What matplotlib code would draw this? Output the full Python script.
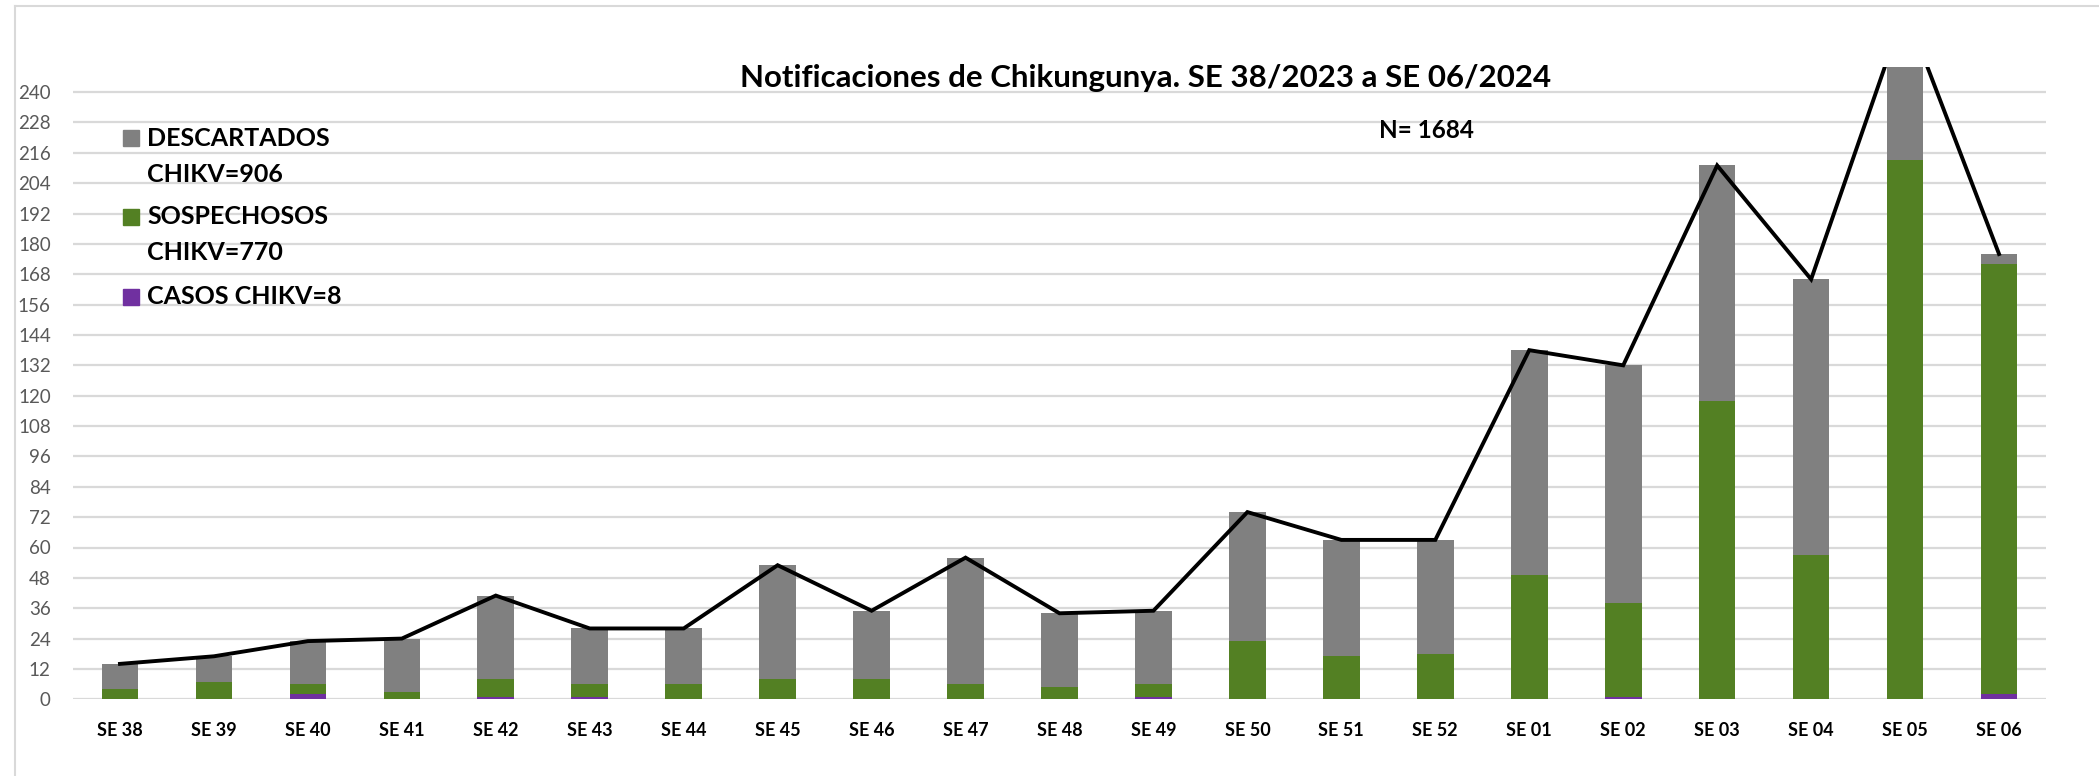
import matplotlib
matplotlib.use("Agg")
import matplotlib.pyplot as plt
from matplotlib.patches import Rectangle
from matplotlib.lines import Line2D
import numpy as np

semanas = ["SE 38", "SE 39", "SE 40", "SE 41", "SE 42", "SE 43", "SE 44", "SE 45",
           "SE 46", "SE 47", "SE 48", "SE 49", "SE 50", "SE 51", "SE 52", "SE 01",
           "SE 02", "SE 03", "SE 04", "SE 05", "SE 06"]
casos = [0, 0, 2, 0, 1, 1, 0, 0, 0, 0, 0, 1, 0, 0, 0, 0, 1, 0, 0, 0, 2]
sospechosos = [4, 7, 4, 3, 7, 5, 6, 8, 8, 6, 5, 5, 23, 17, 18, 49, 37, 118, 57, 213, 170]
descartados = [10, 10, 17, 21, 33, 22, 22, 45, 27, 50, 29, 29, 51, 46, 45, 89, 94, 93, 109, 60, 4]
yticks = list(range(0, 241, 12))

FONT = ["Lato", "DejaVu Sans"]
plt.rcParams["font.family"] = FONT

c_desc = "#808080"
c_sosp = "#538023"
c_casos = "#7030A0"

casos_a = np.array(casos)
sosp_a = np.array(sospechosos)
desc_a = np.array(descartados)
total = casos_a + sosp_a + desc_a

fig = plt.figure(figsize=(20.99, 7.76), dpi=100)
ax = fig.add_axes([73/2099, 1-699.3/776, (2046-73)/2099, (699.3-66.8)/776])

x = np.arange(len(semanas))
w = 0.39
ax.bar(x, casos_a, w, color=c_casos, zorder=3)
ax.bar(x, sosp_a, w, bottom=casos_a, color=c_sosp, zorder=3)
ax.bar(x, desc_a, w, bottom=casos_a + sosp_a, color=c_desc, zorder=3)
ax.plot(x, total, color="black", lw=2.8, zorder=4, solid_joinstyle="miter")

ax.set_xlim(-0.5, len(semanas) - 0.5)
ax.set_ylim(0, 250)
ax.set_yticks(yticks)
ax.set_xticks(x)
ax.set_xticklabels(semanas, fontsize=13, fontweight="bold", color="black")
ax.tick_params(axis="y", length=0, pad=16, labelsize=13.5, labelcolor="#595959")
ax.tick_params(axis="x", length=0, pad=16)
ax.grid(axis="y", color="#D9D9D9", lw=1.6, zorder=0)
for s in ax.spines.values():
    s.set_visible(False)

# title and annotation
fig.text(1146/2099, 1-78/776, "Notificaciones de Chikungunya. SE 38/2023 a SE 06/2024",
         ha="center", va="center", fontsize=22.5, fontweight="bold", color="black")
fig.text(1379/2099, 1-130/776, f"N= {int(total.sum())}", ha="left", va="center",
         fontsize=17.5, fontweight="bold", color="black")

# legend (manual, handle aligned with first line)
leg = [(c_desc, ["DESCARTADOS", f"CHIKV={desc_a.sum()}"], [138, 175]),
       (c_sosp, ["SOSPECHOSOS", f"CHIKV={sosp_a.sum()}"], [217, 253]),
       (c_casos, [f"CASOS CHIKV={casos_a.sum()}"], [297])]
for col, lines, ys in leg:
    fig.patches.append(Rectangle((123/2099, 1-(ys[0]+8)/776), 16/2099, 16/776,
                                 transform=fig.transFigure, color=col, figure=fig))
    for t, yy in zip(lines, ys):
        fig.text(147/2099, 1-yy/776, t, ha="left", va="center", fontsize=18,
                 fontweight="bold", color="black")

# chart area border (left and top)
fig.add_artist(Line2D([15/2099, 15/2099], [0, 1-6/776], transform=fig.transFigure,
                      color="#D9D9D9", lw=1.5))
fig.add_artist(Line2D([15/2099, 1], [1-6/776, 1-6/776], transform=fig.transFigure,
                      color="#D9D9D9", lw=1.5))

fig.savefig("out.png", dpi=100, facecolor="white")
